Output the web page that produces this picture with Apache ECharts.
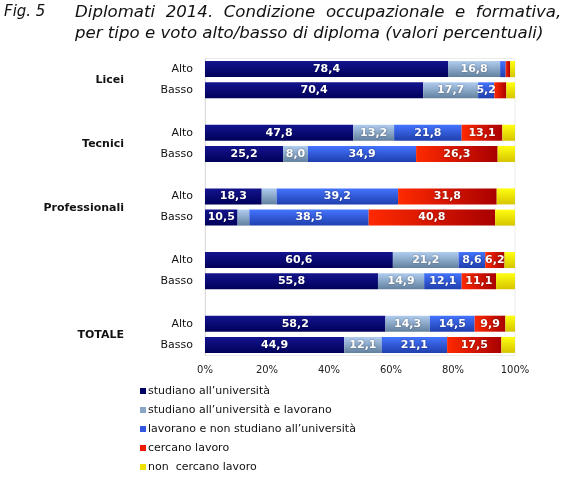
<!DOCTYPE html>
<html>
<head>
<meta charset="utf-8">
<script src="https://cdn.jsdelivr.net/npm/echarts@6/dist/echarts.min.js"></script>
<style>
html,body{margin:0;padding:0;background:#fff;}
#c{width:571px;height:478px;}
</style>
</head>
<body>
<div id="c"></div>
<script>
// ---- data ----
const groups = ['Licei', 'Tecnici', 'Professionali', '', 'TOTALE'];
const levels = ['Alto', 'Basso'];
const seriesNames = [
  'studiano all\u2019università',
  'studiano all\u2019università e lavorano',
  'lavorano e non studiano all\u2019università',
  'cercano lavoro',
  'non  cercano lavoro'
];
// order per group: Alto, Basso
const studiano          = [78.4, 70.4, 47.8, 25.2, 18.3, 10.5, 60.6, 55.8, 58.2, 44.9];
const studianoLavorano  = [16.8, 17.7, 13.2,  8.0,  4.8,  3.8, 21.2, 14.9, 14.3, 12.1];
const lavorano          = [ 1.8,  5.2, 21.8, 34.9, 39.2, 38.5,  8.6, 12.1, 14.5, 21.1];
const cercano           = [ 1.4,  3.9, 13.1, 26.3, 31.8, 40.8,  6.2, 11.1,  9.9, 17.5];
const nonCercano        = [ 1.6,  2.8,  4.1,  5.6,  5.9,  6.4,  3.4,  6.1,  3.1,  4.4];
const xTicks = ['0%', '20%', '40%', '60%', '80%', '100%'];

// ---- build rows (with blank spacer rows between groups) ----
const rows = [];
groups.forEach((g, gi) => {
  levels.forEach((l, li) => rows.push({ key: gi + '-' + li, group: g, level: l, li: li, di: gi * 2 + li }));
  if (gi < groups.length - 1) rows.push({ key: 's' + gi, group: null, level: '', li: -1, di: -1 });
});
const cats = rows.map(r => r.key);
const mapData = arr => rows.map(r => r.di < 0 ? '-' : arr[r.di]);

function vgrad(top, bottom) {
  return new echarts.graphic.LinearGradient(0, 0, 0, 1, [
    { offset: 0, color: top }, { offset: 1, color: bottom }
  ]);
}
function hgrad(left, right) {
  return new echarts.graphic.LinearGradient(0, 0, 1, 0, [
    { offset: 0, color: left }, { offset: 1, color: right }
  ]);
}
const colors = [
  vgrad('#14148f', '#00005a'),
  vgrad('#b0cdf0', '#62809e'),
  vgrad('#4474ff', '#1f3fae'),
  hgrad('#ff2a00', '#a80000'),
  vgrad('#ffff10', '#d6c400')
];
const legendColors = ['#000066', '#8aa6c6', '#3358e0', '#ee1a00', '#eee000'];

const values = [studiano, studianoLavorano, lavorano, cercano, nonCercano];

const series = values.map((arr, si) => ({
  name: seriesNames[si],
  type: 'bar',
  stack: 'tot',
  barWidth: 16,
  data: mapData(arr),
  itemStyle: { color: colors[si] },
  emphasis: { disabled: true },
  label: {
    show: si < 4,
    position: 'inside',
    color: '#fff',
    fontFamily: 'DejaVu Sans',
    fontWeight: 'bold',
    fontSize: 11,
    textShadowColor: 'rgba(0,0,0,0.45)',
    textShadowBlur: 2,
    formatter: p => (p.value > 5 ? p.value.toFixed(1).replace('.', ',') : '')
  }
}));

const chart = echarts.init(document.getElementById('c'), null, { renderer: 'canvas' });
chart.setOption({
  animation: false,
  backgroundColor: '#fff',
  textStyle: { fontFamily: 'DejaVu Sans' },
  title: [
    { text: 'Fig. 5', left: 4, top: 2, padding: 0,
      textStyle: { fontFamily: 'DejaVu Sans', fontStyle: 'italic', fontWeight: 'normal', fontSize: 15, lineHeight: 21, color: '#111' } },
    { text: 'Diplomati  2014.  Condizione  occupazionale  e  formativa,\nper tipo e voto alto/basso di diploma (valori percentuali)',
      left: 75, top: 2, padding: 0,
      textStyle: { fontFamily: 'DejaVu Sans', fontStyle: 'italic', fontWeight: 'normal', fontSize: 16.6, lineHeight: 21, color: '#111' } }
  ],
  legend: {
    orient: 'vertical',
    left: 140,
    top: 384,
    padding: 0,
    itemWidth: 6,
    itemHeight: 6,
    itemGap: 5,
    icon: 'rect',
    selectedMode: false,
    textStyle: { fontFamily: 'DejaVu Sans', fontSize: 11, color: '#111', lineHeight: 14, padding: [0, 0, 0, -3] },
    data: seriesNames.map((n, i) => ({ name: n, itemStyle: { color: legendColors[i] } }))
  },
  grid: {
    left: 205, right: 56, top: 58.5, bottom: 122.5,
    show: true, borderColor: '#ececec', borderWidth: 1
  },
  xAxis: {
    type: 'value',
    min: 0, max: 100, interval: 20,
    axisLine: { show: false },
    axisTick: { show: false },
    splitLine: { show: false },
    axisLabel: {
      margin: 10,
      fontFamily: 'DejaVu Sans',
      fontSize: 10,
      color: '#222',
      formatter: v => xTicks[Math.round(v / 20)]
    }
  },
  yAxis: [
    {
      type: 'category',
      inverse: true,
      data: cats,
      axisLine: { show: true, lineStyle: { color: '#dcdcdc' } },
      axisTick: { show: false },
      axisLabel: {
        interval: 0,
        margin: 12,
        fontFamily: 'DejaVu Sans',
        fontSize: 11,
        color: '#111',
        formatter: (v, i) => rows[i].level
      }
    },
    {
      type: 'category',
      inverse: true,
      position: 'left',
      offset: 73,
      data: cats,
      axisLine: { show: false },
      axisTick: { show: false },
      axisLabel: {
        interval: 0,
        margin: 8,
        formatter: (v, i) => (rows[i].li === 0 && rows[i].group ? '{g|' + rows[i].group + '}' : ''),
        rich: {
          g: { fontFamily: 'DejaVu Sans', fontWeight: 'bold', fontSize: 11, color: '#111', padding: [23, 0, 0, 0] }
        }
      }
    }
  ],
  series: series
});
</script>
</body>
</html>
